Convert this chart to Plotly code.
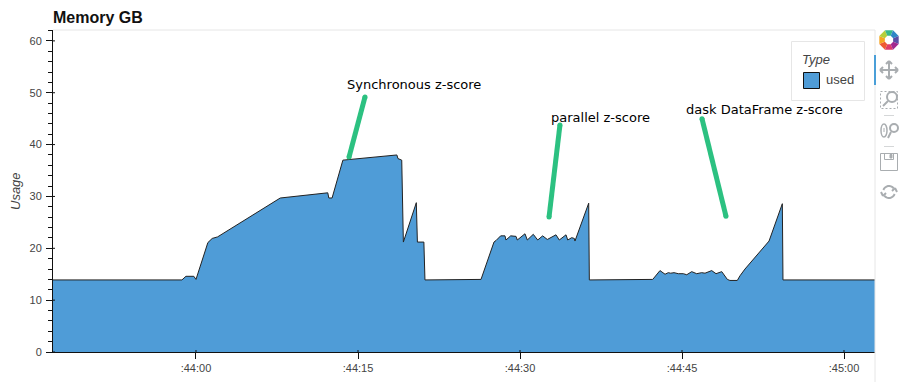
import math
import pandas as pd
import plotly.graph_objects as go

W, H = 906, 382
L, R, T, B = 53, 875, 30, 352

BASE = pd.Timestamp("2019-06-01 12:44:00")

seconds = [-13.24, -1.3, -0.93, -0.2, 0.0, 1.1, 1.5, 2.0, 7.8, 12.2, 12.3, 12.6, 13.6, 18.6, 18.7, 19.05, 19.2, 20.4,
           20.5, 21.1, 21.2, 26.39, 27.59, 27.78, 28.21, 28.61, 28.70, 29.14, 29.63, 29.75, 30.46, 30.68, 31.23, 31.64,
           32.10, 32.53, 33.33, 33.64, 34.26, 34.42, 34.79, 35.03, 35.09, 36.36, 36.42, 42.29, 42.96, 43.43, 43.73,
           43.95, 44.26, 44.66, 45.12, 45.44, 45.90, 46.36, 46.82, 47.13, 47.75, 48.15, 48.68, 48.89, 49.20, 49.44,
           50.12, 50.37, 50.83, 53.06, 54.29, 54.35, 62.87]
used = [13.9, 13.9, 14.6, 14.6, 14.0, 21.1, 21.9, 22.2, 29.7, 30.7, 29.7, 29.7, 37.0, 38.0, 37.3, 37.0, 21.2, 28.8,
        21.2, 21.2, 13.9, 14.0, 21.2, 21.5, 22.4, 22.4, 21.6, 22.4, 22.3, 21.6, 22.8, 21.6, 22.7, 21.6,
        22.4, 21.7, 22.6, 21.6, 22.6, 21.6, 22.05, 21.9, 21.4, 28.7, 13.9, 14.0, 15.7, 15.0, 15.3,
        15.2, 15.3, 15.1, 15.1, 14.9, 15.5, 15.1, 15.3, 15.2, 15.7, 15.1, 15.5, 14.9, 14.0, 13.8,
        13.8, 14.7, 16.0, 21.4, 28.6, 13.9, 13.9]

note_labels = ["Synchronous z-score", "parallel z-score", "dask DataFrame z-score"]
note_text_sec = [13.98, 32.87, 45.37]
note_text_val = [51.6, 45.2, 46.8]
arrow_sec = [[14.17, 15.65], [32.69, 33.70], [49.07, 46.85]]
arrow_val = [[37.6, 49.2], [26.05, 43.8], [26.2, 45.0]]

y_major = [0, 10, 20, 30, 40, 50, 60]
tick_sec = [0, 15, 30, 45, 60]
tick_text = [":44:00", ":44:15", ":44:30", ":44:45", ":45:00"]

FILL = "#4f9cd7"
EDGE = "#222222"
GREEN = "#2cc181"
GRID = "#e6e6e6"
TICK_GREY = "#444444"
ICON = "#a9adb0"


def ts(s):
    return BASE + pd.to_timedelta(s, unit="s")


def px(x):
    return (x - L) / (R - L)


def py(y):
    return (B - y) / (B - T)


fig = go.Figure()
fig.add_trace(go.Scatter(x=[ts(s) for s in seconds], y=used, mode="lines", fill="tozeroy", name="used",
                         fillcolor=FILL, line=dict(color=EDGE, width=1), showlegend=False, hoverinfo="skip"))
for xs, ys in zip(arrow_sec, arrow_val):
    fig.add_trace(go.Scatter(x=[ts(s) for s in xs], y=ys, mode="lines+markers", showlegend=False, hoverinfo="skip",
                             line=dict(color=GREEN, width=5), marker=dict(color=GREEN, size=5)))

shapes = []
annotations = []


def line(x0, y0, x1, y1, color=ICON, width=1):
    shapes.append(dict(type="line", xref="paper", yref="paper", x0=px(x0), y0=py(y0), x1=px(x1), y1=py(y1),
                       line=dict(color=color, width=width), layer="above"))


def rect(x0, y0, x1, y1, color=ICON, fill="rgba(0,0,0,0)", width=1, dash=None):
    shapes.append(dict(type="rect", xref="paper", yref="paper", x0=px(x0), y0=py(y0), x1=px(x1), y1=py(y1),
                       line=dict(color=color, width=width, dash=dash or "solid"), fillcolor=fill, layer="above"))


def circle(cx, cy, r, color=ICON, width=2):
    shapes.append(dict(type="circle", xref="paper", yref="paper", x0=px(cx - r), y0=py(cy + r), x1=px(cx + r),
                       y1=py(cy - r), line=dict(color=color, width=width), layer="above"))


# frame
line(L, T, R, T, GRID)
line(R, T, R, 382, GRID)
line(R, 55, R, 85, "#4a9fd8", 2)

# inward tick stubs of the Bokeh-style axes
for s in tick_sec:
    shapes.append(dict(type="line", xref="x", yref="paper", x0=ts(s), x1=ts(s), y0=0, y1=2 / (B - T),
                       line=dict(color="#111111", width=1), layer="above"))
for v in y_major:
    shapes.append(dict(type="line", xref="paper", yref="y", x0=0, x1=2 / (R - L), y0=v, y1=v,
                       line=dict(color="#111111", width=1), layer="above"))

# legend box
rect(791.5, 41.5, 864.5, 100.5, GRID, "#ffffff")
rect(803.5, 72.5, 819.5, 88.5, "#111111", FILL)
annotations.append(dict(xref="paper", yref="paper", x=px(799.5), y=py(59), xanchor="left", yanchor="middle",
                        text="<i>Type</i>", showarrow=False, font=dict(family="Liberation Sans", size=13, color="#444444")))
annotations.append(dict(xref="paper", yref="paper", x=px(824), y=py(80), xanchor="left", yanchor="middle",
                        text="used", showarrow=False, font=dict(family="Liberation Sans", size=13, color="#444444")))

# toolbar logo
logo = ["#dd3c6a", "#ee5a33", "#f5a623", "#b5cf3a", "#39b88a", "#2f87c6", "#5a4da6", "#a2288f"]
cx, cy = 889, 40
for i, col in enumerate(logo):
    a0 = math.radians(i * 45 + 67.5)
    a1 = math.radians(i * 45 + 112.5)
    a2 = math.radians(i * 45 + 90)
    pts = [(cx + 10.5 * math.cos(a0), cy + 10.5 * math.sin(a0)), (cx + 10.5 * math.cos(a1), cy + 10.5 * math.sin(a1)),
           (cx + 4.5 * math.cos(a2 + 0.4), cy + 4.5 * math.sin(a2 + 0.4)), (cx + 4.5 * math.cos(a0), cy + 4.5 * math.sin(a0))]
    d = "M" + " L".join(f"{px(a):.5f},{py(b):.5f}" for a, b in pts) + " Z"
    shapes.append(dict(type="path", xref="paper", yref="paper", path=d, fillcolor=col, line=dict(width=0), layer="above"))

# toolbar icons
line(880, 70, 898, 70, ICON, 2)
line(889, 61, 889, 79, ICON, 2)
for a, b, c, d_ in [(880, 70, 883, 67), (880, 70, 883, 73), (898, 70, 895, 67), (898, 70, 895, 73),
                    (889, 61, 886, 64), (889, 61, 892, 64), (889, 79, 886, 76), (889, 79, 892, 76)]:
    line(a, b, c, d_, ICON, 2)
rect(880.5, 91.5, 897.5, 108.5, ICON, dash="2px,2px")
circle(892, 97, 5)
line(888, 101, 883, 106, ICON, 2)
line(884, 115.5, 894, 115.5, "#d5d7d8")
shapes.append(dict(type="circle", xref="paper", yref="paper", x0=px(881), y0=py(137), x1=px(887), y1=py(124),
                   line=dict(color=ICON, width=1.5), layer="above"))
line(884, 128, 884, 132, ICON, 1)
circle(894, 128, 4)
line(891, 132, 888, 138, ICON, 2)
line(884, 146.5, 894, 146.5, "#d5d7d8")
rect(880.5, 153.5, 897.5, 170.5, ICON)
rect(884.5, 153.5, 893.5, 159.5, ICON)
rect(890, 154.5, 892, 158, ICON, ICON)
for start, stop in [(200, 330), (20, 150)]:
    shapes.append(dict(type="path", xref="paper", yref="paper", layer="above",
                       path="M" + " L".join(f"{px(889 + 6 * math.cos(math.radians(t))):.5f},{py(192 + 6 * math.sin(math.radians(t))):.5f}"
                                            for t in range(start, stop, 15)),
                       line=dict(color=ICON, width=2)))
line(895, 188, 897, 192, ICON, 2)
line(895, 188, 892, 191, ICON, 2)
line(883, 196, 881, 192, ICON, 2)
line(883, 196, 886, 193, ICON, 2)

# note labels
for label, s, v in zip(note_labels, note_text_sec, note_text_val):
    annotations.append(dict(x=ts(s), y=v, xref="x", yref="y", xanchor="left", yanchor="middle", text=label,
                            showarrow=False, xshift=-2, font=dict(family="DejaVu Sans", size=13, color="#000000")))

annotations.append(dict(xref="paper", yref="paper", x=px(51), y=py(18), xanchor="left", yanchor="middle",
                        text="<b>Memory GB</b>", showarrow=False,
                        font=dict(family="Liberation Sans", size=16, color="#111111")))
annotations.append(dict(xref="paper", yref="paper", x=px(15), y=py(191), xanchor="center", yanchor="middle",
                        text="<i>Usage</i>", textangle=-90, showarrow=False,
                        font=dict(family="Liberation Sans", size=13, color="#444444")))

fig.update_layout(
    width=W, height=H, margin=dict(l=L, r=W - R, t=T, b=H - B, pad=0, autoexpand=False),
    paper_bgcolor="#ffffff", plot_bgcolor="#ffffff", showlegend=False,
    shapes=shapes, annotations=annotations,
    xaxis=dict(type="date", range=[ts(seconds[0]), ts(seconds[-1])], showgrid=False, zeroline=False, automargin=False,
               tickvals=[ts(s) for s in tick_sec], ticktext=tick_text, ticks="outside", ticklen=6, tickcolor="#111111",
               tickfont=dict(family="Liberation Sans", size=11, color=TICK_GREY),
               showline=True, linecolor="#111111", linewidth=1),
    yaxis=dict(range=[0, 62.1], showgrid=False, zeroline=False, tickvals=y_major, ticks="outside", ticklen=6, automargin=False,
               ticklabelstandoff=2,
               tickcolor="#111111", tickfont=dict(family="Liberation Sans", size=11, color=TICK_GREY),
               showline=True, linecolor="#111111", linewidth=1,
               minor=dict(dtick=2, tick0=0, ticks="outside", ticklen=4, tickcolor="#111111", showgrid=False)),
)

fig.write_html("out.html", config=dict(displayModeBar=False, staticPlot=True),
               post_script="document.body.style.margin='0';document.body.style.overflow='hidden';")
